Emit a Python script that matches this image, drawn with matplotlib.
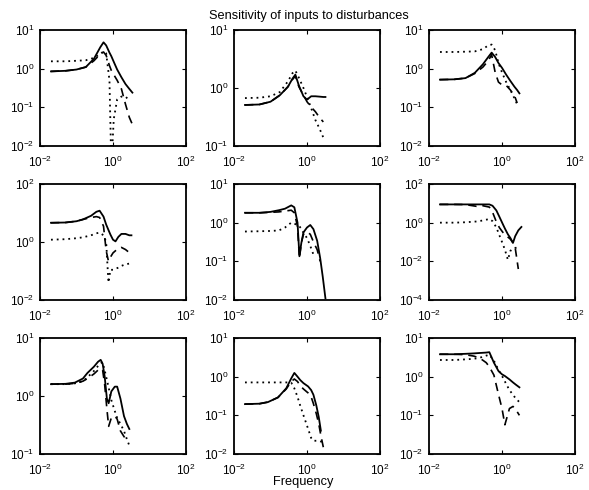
import numpy as np
import matplotlib
matplotlib.use("Agg")
import matplotlib.pyplot as plt

plt.rcParams['font.family'] = ['Liberation Sans', 'DejaVu Sans']
plt.rcParams['font.size'] = 9

nan = np.nan

# panel (1,1)
f11 = [0.02, 0.05, 0.1, 0.18, 0.3, 0.45, 0.55, 0.65, 0.8, 0.9, 1.05, 1.3, 1.7, 2.2, 2.8, 3.4]
solid11 = [0.85, 0.88, 0.95, 1.1, 1.8, 3.6, 4.8, 4.0, 2.6, 2.1, 1.5, 0.95, 0.6, 0.4, 0.3, 0.24]
dash11 = [0.85, 0.88, 0.95, 1.1, 1.6, 2.4, 2.7, 2.2, 1.2, 0.9, 0.7, 0.5, 0.3, 0.12, 0.055, 0.036]
dot11 = [1.55, 1.55, 1.6, 1.65, 1.9, 2.4, 2.8, 2.5, 0.5, 0.003, 0.05, 0.16, 0.19, 0.19, 0.15, nan]

# panel (1,2)
f12 = [0.02, 0.05, 0.1, 0.18, 0.3, 0.4, 0.48, 0.6, 0.8, 1.0, 1.3, 1.7, 2.2, 2.8, 3.2]
solid12 = [0.51, 0.52, 0.58, 0.75, 1.05, 1.45, 1.7, 1.1, 0.72, 0.63, 0.72, 0.72, 0.71, 0.7, 0.7]
dash12 = [0.51, 0.52, 0.58, 0.75, 1.05, 1.4, 1.6, 1.05, 0.75, 0.58, 0.47, 0.39, 0.31, 0.26, nan]
dot12 = [0.67, 0.68, 0.72, 0.85, 1.3, 1.8, 2.0, 1.5, 1.0, 0.7, 0.45, 0.28, 0.2, 0.14, nan]

# panel (1,3)
f13 = [0.02, 0.05, 0.1, 0.18, 0.3, 0.42, 0.52, 0.65, 0.8, 1.0, 1.3, 1.7, 2.2, 2.6, 3.0]
solid13 = [0.52, 0.53, 0.57, 0.78, 1.3, 2.0, 2.6, 2.0, 1.4, 1.05, 0.7, 0.48, 0.34, 0.28, 0.23]
dash13 = [0.52, 0.53, 0.57, 0.75, 1.1, 1.6, 2.3, 0.8, 0.45, 0.38, 0.37, 0.28, 0.2, 0.13, nan]
dot13 = [2.7, 2.7, 2.75, 2.8, 3.2, 4.0, 4.2, 3.0, 1.4, 0.8, 0.45, 0.28, 0.17, 0.12, nan]

# panel (2,1)
f21 = [0.02, 0.05, 0.1, 0.15, 0.25, 0.35, 0.43, 0.55, 0.65, 0.75, 0.85, 1.0, 1.17, 1.4, 1.7, 2.2, 2.8, 3.2]
solid21 = [4.6, 4.7, 5.2, 6.0, 8.0, 11.0, 12.0, 7.5, 4.0, 2.6, 1.8, 1.2, 1.05, 1.5, 1.9, 1.9, 1.7, 1.7]
dash21 = [4.6, 4.7, 5.2, 6.0, 7.0, 7.5, 7.0, 3.5, 0.5, 0.22, 0.3, 0.42, 0.5, 0.6, 0.65, 0.55, 0.43, nan]
dot21 = [1.2, 1.25, 1.35, 1.45, 1.7, 2.0, 2.1, 1.7, 1.0, 0.04, 0.11, 0.11, 0.12, 0.13, 0.15, 0.17, 0.18, nan]

# panel (2,2)
f22 = [0.02, 0.05, 0.1, 0.17, 0.25, 0.37, 0.45, 0.55, 0.62, 0.7, 0.8, 1.0, 1.23, 1.5, 1.9, 2.3, 2.7, 3.2]
solid22 = [1.8, 1.8, 1.9, 2.1, 2.3, 2.8, 2.5, 1.0, 0.135, 0.3, 0.56, 0.75, 0.87, 0.68, 0.34, 0.12, 0.04, 0.011]
dash22 = [1.8, 1.8, 1.85, 1.9, 2.0, 2.1, 1.8, 0.8, 0.12, 0.3, 0.5, 0.58, 0.5, 0.32, 0.2, 0.1, nan, nan]
dot22 = [0.59, 0.6, 0.61, 0.63, 0.75, 1.0, 0.95, 0.85, 0.8, 0.7, 0.55, 0.4, 0.25, 0.15, nan, nan, nan, nan]

# panel (2,3)
f23 = [0.02, 0.05, 0.1, 0.2, 0.3, 0.45, 0.55, 0.7, 0.85, 1.05, 1.2, 1.45, 1.7, 2.0, 2.3, 2.8, 3.4]
solid23 = [8.8, 8.8, 8.8, 8.8, 8.8, 8.8, 7.5, 4.3, 2.0, 0.85, 0.5, 0.25, 0.16, 0.09, 0.2, 0.4, 0.6]
dash23 = [8.8, 8.8, 8.6, 7.0, 7.5, 6.4, 3.5, 1.1, 0.55, 0.32, 0.25, 0.18, 0.14, 0.09, 0.05, 0.004, nan]
dot23 = [1.0, 1.0, 1.05, 1.15, 1.3, 1.55, 1.2, 0.57, 0.22, 0.08, 0.04, 0.012, 0.035, 0.045, 0.05, 0.05, nan]

# panel (3,1)
f31 = [0.02, 0.05, 0.09, 0.15, 0.2, 0.3, 0.39, 0.46, 0.52, 0.59, 0.68, 0.76, 0.9, 1.12, 1.3, 1.6, 2.0, 2.4, 2.8]
solid31 = [1.6, 1.62, 1.7, 2.0, 2.5, 3.2, 3.9, 4.2, 3.6, 2.2, 0.9, 0.75, 1.2, 1.45, 1.45, 0.9, 0.45, 0.33, 0.27]
dash31 = [1.6, 1.6, 1.65, 1.8, 2.0, 2.4, 2.8, 3.0, 2.8, 1.6, 0.6, 0.3, 0.42, 0.45, 0.4, 0.25, 0.2, 0.17, nan]
dot31 = [1.6, 1.6, 1.65, 1.8, 2.1, 2.7, 3.3, 3.7, 3.8, 2.8, 1.9, 1.4, 0.85, 0.55, 0.42, 0.33, 0.25, 0.18, 0.14]

# panel (3,2)
f32 = [0.02, 0.05, 0.085, 0.16, 0.27, 0.37, 0.45, 0.55, 0.65, 0.8, 1.07, 1.3, 1.5, 1.8, 2.1, 2.4, 2.8]
solid32 = [0.195, 0.2, 0.22, 0.29, 0.5, 0.9, 1.25, 1.0, 0.82, 0.68, 0.56, 0.45, 0.34, 0.18, 0.09, 0.04, nan]
dash32 = [0.195, 0.2, 0.22, 0.29, 0.48, 0.75, 0.87, 0.75, 0.58, 0.48, 0.38, 0.3, 0.2, 0.11, 0.06, 0.03, 0.015]
dot32 = [0.71, 0.71, 0.71, 0.71, 0.71, 0.7, 0.5, 0.3, 0.18, 0.1, 0.045, 0.026, 0.022, 0.022, 0.022, 0.021, 0.02]

# panel (3,3)
f33 = [0.02, 0.05, 0.1, 0.17, 0.25, 0.37, 0.45, 0.6, 0.8, 1.0, 1.2, 1.6, 2.0, 2.4, 3.0]
solid33 = [3.8, 3.8, 3.9, 4.0, 4.1, 4.2, 4.3, 2.3, 1.4, 1.15, 1.04, 0.85, 0.71, 0.62, 0.53]
dash33 = [3.8, 3.8, 3.7, 3.4, 3.0, 2.3, 1.8, 1.1, 0.35, 0.15, 0.057, 0.15, 0.17, 0.14, 0.1]
dot33 = [2.7, 2.7, 2.8, 2.9, 3.1, 3.5, 3.7, 2.6, 1.5, 1.05, 0.75, 0.45, 0.34, 0.27, 0.22]

ylims = [(1e-2, 1e1), (1e-1, 1e1), (1e-2, 1e1),
         (1e-2, 1e2), (1e-2, 1e1), (1e-4, 1e2),
         (1e-1, 1e1), (1e-2, 1e1), (1e-2, 1e1)]

panels = [(f11, solid11, dash11, dot11), (f12, solid12, dash12, dot12), (f13, solid13, dash13, dot13),
          (f21, solid21, dash21, dot21), (f22, solid22, dash22, dot22), (f23, solid23, dash23, dot23),
          (f31, solid31, dash31, dot31), (f32, solid32, dash32, dot32), (f33, solid33, dash33, dot33)]

W, H = 589, 490
fig = plt.figure(figsize=(W / 100, H / 100), dpi=100)

col_left = [40, 234, 429]
row_top = [30, 184, 338]
ax_w, ax_h = 146, 116

for i, (f, s, d, o) in enumerate(panels):
    r, c = divmod(i, 3)
    ax = fig.add_axes([col_left[c] / W, (H - row_top[r] - ax_h) / H, ax_w / W, ax_h / H])
    ax.loglog(f, s, '-', color='black', lw=1.3)
    ax.loglog(f, d, '--', color='black', lw=1.2, dashes=(5, 3.5))
    ax.loglog(f, o, ':', color='black', lw=1.3, dashes=(1, 2.2))
    ax.set_xlim(1e-2, 1e2)
    ax.set_ylim(*ylims[i])
    ax.set_xticks([1e-2, 1e0, 1e2])
    lo, hi = np.log10(ylims[i])
    step = 1 if hi - lo <= 3 else 2
    ax.set_yticks(10.0 ** np.arange(lo, hi + 1, step))
    ax.minorticks_off()
    ax.tick_params(direction='in', length=3, width=0.8, top=True, right=True, labelsize=8.5)
    ax.tick_params(axis='x', pad=6)
    ax.tick_params(axis='y', pad=4)
    for sp in ax.spines.values():
        sp.set_linewidth(1.3)

fig.text(309 / W, 1 - 16 / H, 'Sensitivity of inputs to disturbances', ha='center', va='center', fontsize=9.2)
fig.text(303 / W, 1 - 482 / H, 'Frequency', ha='center', va='center', fontsize=9.2)

fig.savefig('out.png', dpi=100)
